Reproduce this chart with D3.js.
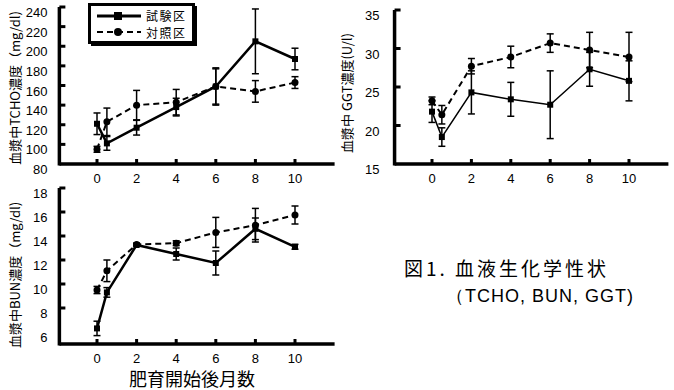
<!DOCTYPE html>
<html>
<head>
<meta charset="utf-8">
<script src="https://cdn.jsdelivr.net/npm/d3@7"></script>
<style>
body { margin: 0; background: #fff; }
text { font-family: "Liberation Sans", Arial, sans-serif; fill: #000; }
.jp { font-family: "Noto Sans CJK JP", sans-serif; }
</style>
</head>
<body>
<script>
// データ (月, 平均, 誤差)
const months = [0, 0.5, 2, 4, 6, 8, 10]
const xTicks = [0, 2, 4, 6, 8, 10]

const tchoTest = [121, 101, 117, 138, 159, 205, 187]
const tchoTestErr = [11, 7, 7.5, 9, 19, 33, 11]
const tchoCtrl = [95, 123, 140, 143, 159, 154, 163]
const tchoCtrlErr = [3, 14, 15, 13, 18, 11, 6]
const tchoTicks = [80, 100, 120, 140, 160, 180, 200, 220, 240]

const ggtTest = [21.8, 18.5, 24.3, 23.4, 22.7, 27.3, 25.8]
const ggtTestErr = [1.4, 1.2, 2.8, 2.2, 4.4, 2.2, 2.6]
const ggtCtrl = [23.2, 21.4, 27.7, 28.9, 30.7, 29.8, 28.9]
const ggtCtrlErr = [0.5, 1.2, 1, 1.4, 1.2, 2.3, 3.2]
const ggtTicks = [15, 20, 25, 30, 35]

const bunTest = [6.3, 9.3, 13.25, 12.5, 11.75, 14.6, 13.1]
const bunTestErr = [0.6, 0.4, 0.1, 0.5, 1.0, 0.9, 0.2]
const bunCtrl = [9.5, 11.1, 13.3, 13.4, 14.3, 14.9, 15.75]
const bunCtrlErr = [0.3, 0.9, 0.1, 0.2, 1.25, 1.4, 0.75]
const bunTicks = [6, 8, 10, 12, 14, 16, 18]

const legendNames = ["試験区", "対照区"]

const svg = d3.select("body").append("svg").attr("width", 674).attr("height", 390)

function drawPanel(p) {
    const x = d3.scaleLinear().domain([0, 10]).range(p.xr)
    const y = d3.scaleLinear().domain(p.yd).range(p.yr)
    const g = svg.append("g")

    // 軸
    const x0 = x(-1.9), x1 = x(12)
    g.append("line").attr("x1", x0).attr("x2", x1).attr("y1", y(p.yd[0])).attr("y2", y(p.yd[0]))
        .attr("stroke", "#000").attr("stroke-width", 3.5)
    g.append("line").attr("x1", x0).attr("x2", x0).attr("y1", y(p.yd[0]) + 1.5).attr("y2", y(p.yd[1]))
        .attr("stroke", "#000").attr("stroke-width", 3.5)

    g.selectAll(".yt").data(p.ticks.slice(1)).enter().append("line")
        .attr("x1", x0).attr("x2", x0 + 6)
        .attr("y1", d => y(d)).attr("y2", d => y(d))
        .attr("stroke", "#000").attr("stroke-width", 3)
    g.selectAll(".yl").data(p.ticks).enter().append("text")
        .attr("x", x0 - p.lblGap).attr("y", d => y(d) + 10)
        .attr("text-anchor", "end").attr("font-size", 13)
        .text(d => d)

    g.selectAll(".xt").data(xTicks).enter().append("rect")
        .attr("x", d => x(d) - 1.5).attr("y", y(p.yd[0]) - 5)
        .attr("width", 3).attr("height", 4).attr("fill", "#000")
    g.selectAll(".xl").data(xTicks).enter().append("text")
        .attr("x", d => x(d)).attr("y", y(p.yd[0]) + 19)
        .attr("text-anchor", "middle").attr("font-size", 13)
        .text(d => d)

    // 縦軸タイトル
    g.append("text").attr("class", "jp")
        .attr("transform", "translate(" + p.titleX + "," + p.titleY + ") rotate(-90)")
        .attr("text-anchor", "middle").attr("font-size", 13)
        .text(p.title)

    const series = [
        { v: p.ctrl, e: p.ctrlErr, dash: "6,4", w: 2, mark: "circle" },
        { v: p.test, e: p.testErr, dash: null, w: p.solidW, mark: "square" }
    ]
    series.forEach(s => {
        const pts = months.map((m, i) => ({ m: m, v: s.v[i], e: s.e[i] }))
        const line = d3.line().x(d => x(d.m)).y(d => y(d.v))
        g.append("path").datum(pts).attr("d", line)
            .attr("fill", "none").attr("stroke", "#000").attr("stroke-width", s.w)
            .attr("stroke-dasharray", s.dash)
        g.selectAll(null).data(pts).enter().append("line")
            .attr("x1", d => x(d.m)).attr("x2", d => x(d.m))
            .attr("y1", d => y(d.v - d.e)).attr("y2", d => y(d.v + d.e))
            .attr("stroke", "#000").attr("stroke-width", 1.5)
        g.selectAll(null).data(pts.flatMap(d => [d.v - d.e, d.v + d.e].map(v => ({ m: d.m, v: v }))))
            .enter().append("line")
            .attr("x1", d => x(d.m) - 3.5).attr("x2", d => x(d.m) + 3.5)
            .attr("y1", d => y(d.v)).attr("y2", d => y(d.v))
            .attr("stroke", "#000").attr("stroke-width", 1.5)
        if (s.mark == "circle") {
            g.selectAll(null).data(pts).enter().append("circle")
                .attr("cx", d => x(d.m)).attr("cy", d => y(d.v)).attr("r", 3.5).attr("fill", "#000")
        } else {
            g.selectAll(null).data(pts).enter().append("rect")
                .attr("x", d => x(d.m) - 3).attr("y", d => y(d.v) - 3)
                .attr("width", 6).attr("height", 6).attr("fill", "#000")
        }
    })
}

drawPanel({ xr: [97, 295], yd: [80, 240], yr: [164, 7], ticks: tchoTicks, lblGap: 12,
    test: tchoTest, testErr: tchoTestErr, ctrl: tchoCtrl, ctrlErr: tchoCtrlErr, solidW: 2.5,
    title: "血漿中TCHO濃度（mg/dl)", titleX: 20, titleY: 88 })
drawPanel({ xr: [432, 629], yd: [15, 35], yr: [164, 10], ticks: ggtTicks, lblGap: 15,
    test: ggtTest, testErr: ggtTestErr, ctrl: ggtCtrl, ctrlErr: ggtCtrlErr, solidW: 1.5,
    title: "血漿中 GGT濃度(U/l)", titleX: 352, titleY: 93 })
drawPanel({ xr: [97, 295], yd: [5, 18], yr: [344, 188], ticks: bunTicks, lblGap: 12,
    test: bunTest, testErr: bunTestErr, ctrl: bunCtrl, ctrlErr: bunCtrlErr, solidW: 2.5,
    title: "血漿中BUN濃度（mg/dl)", titleX: 20, titleY: 275 })

// 凡例
const lg = svg.append("g")
lg.append("rect").attr("x", 91).attr("y", 6).attr("width", 106).attr("height", 40).attr("fill", "#000")
lg.append("rect").attr("x", 89.5).attr("y", 4.5).attr("width", 104).attr("height", 38)
    .attr("fill", "#fff").attr("stroke", "#000").attr("stroke-width", 3)
legendNames.forEach((n, i) => {
    const yy = 16 + i * 16
    lg.append("line").attr("x1", 97).attr("x2", 141).attr("y1", yy).attr("y2", yy)
        .attr("stroke", "#000").attr("stroke-width", i == 0 ? 3 : 2)
        .attr("stroke-dasharray", i == 0 ? null : "6,4")
    if (i == 0) lg.append("rect").attr("x", 114).attr("y", yy - 4).attr("width", 8).attr("height", 8)
    else lg.append("circle").attr("cx", 118).attr("cy", yy).attr("r", 4)
    lg.append("text").attr("class", "jp").attr("x", 146).attr("y", 21 + i * 17)
        .attr("font-size", 12).attr("letter-spacing", 1.5).text(n)
})

// キャプション
svg.append("text").attr("class", "jp").attr("x", 192).attr("y", 386)
    .attr("text-anchor", "middle").attr("font-size", 18).text("肥育開始後月数")
svg.append("text").attr("class", "jp").attr("x", 404).attr("y", 276)
    .attr("font-size", 19).attr("letter-spacing", 3).text("図1. 血液生化学性状")
svg.append("text").attr("x", 446).attr("y", 302)
    .attr("font-size", 18).attr("letter-spacing", 1).text("（TCHO, BUN, GGT)")
</script>
</body>
</html>
